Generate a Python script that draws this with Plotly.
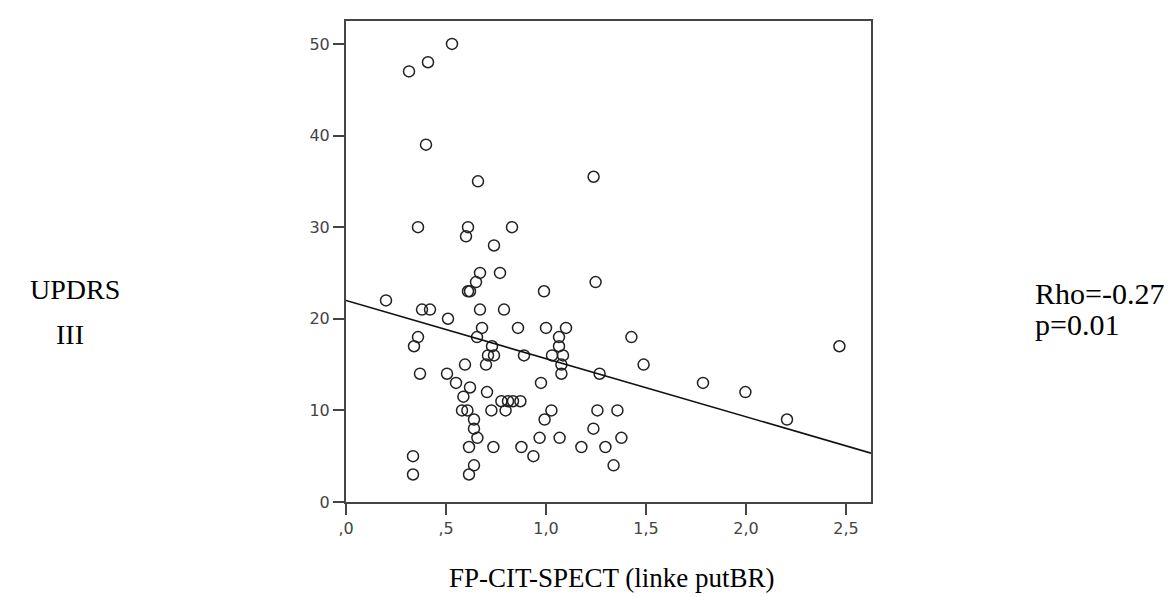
import plotly.graph_objects as go

# ---- data ----
putbr = [0.315, 0.41, 0.53, 0.40, 0.66, 0.36, 0.61, 0.60, 0.83, 0.74,
         0.67, 0.77, 0.65, 0.62, 0.61, 0.99, 0.20, 0.38, 0.42, 0.67,
         0.79, 0.51, 0.68, 0.86, 1.00, 1.10, 0.36, 0.34, 0.655, 0.73,
         0.71, 0.74, 0.70, 0.89, 1.065, 1.065, 1.03, 1.085, 1.077, 1.077,
         0.37, 0.505, 0.595, 0.55, 0.62, 0.705, 0.975, 0.587, 0.58, 0.607,
         0.64, 0.64, 0.657, 0.615, 0.64, 0.615, 0.335, 0.335, 0.727, 0.777,
         0.81, 0.835, 0.872, 0.798, 0.737, 0.877, 0.937, 0.968, 1.027, 0.993,
         1.068, 1.177, 1.238, 1.248, 1.427, 1.488, 1.268, 2.467, 1.785, 1.997,
         2.205, 1.257, 1.357, 1.237, 1.377, 1.297, 1.338]
updrs = [47, 48, 50, 39, 35, 30, 30, 29, 30, 28,
         25, 25, 24, 23, 23, 23, 22, 21, 21, 21,
         21, 20, 19, 19, 19, 19, 18, 17, 18, 17,
         16, 16, 15, 16, 18, 17, 16, 16, 15, 14,
         14, 14, 15, 13, 12.5, 12, 13, 11.5, 10, 10,
         9, 8, 7, 6, 4, 3, 5, 3, 10, 11,
         11, 11, 11, 10, 6, 6, 5, 7, 10, 9,
         7, 6, 35.5, 24, 18, 15, 14, 17, 13, 12,
         9, 10, 10, 8, 7, 6, 4]

fit_intercept = 22.0
fit_slope = -6.35

x_range = [0, 2.625]
y_range = [0, 52.5]
x_tickvals = [0, 0.5, 1.0, 1.5, 2.0, 2.5]
x_ticktext = [",0", ",5", "1,0", "1,5", "2,0", "2,5"]
y_tickvals = [0, 10, 20, 30, 40, 50]

x_title = "FP-CIT-SPECT (linke putBR)"
y_title_lines = ["UPDRS", "III"]
stats_lines = ["Rho=-0.27", "p=0.01"]

# ---- layout geometry (pixels) ----
W, H = 1174, 597
L, R, T, B = 338, 863, 11, 494


def px(xp):
    return (xp - L) / (R - L)


def py(yp):
    return (B - yp) / (B - T)


fig = go.Figure()

fig.add_trace(go.Scatter(
    x=putbr, y=updrs, mode="markers",
    marker=dict(symbol="circle-open", size=11, color="#222222",
                line=dict(width=1.5, color="#222222")),
    showlegend=False, hoverinfo="x+y"))

fit_x = [x_range[0], x_range[1]]
fit_y = [fit_intercept + fit_slope * v for v in fit_x]
fig.add_trace(go.Scatter(
    x=fit_x, y=fit_y, mode="lines",
    line=dict(color="#111111", width=1.6),
    showlegend=False, hoverinfo="skip"))

serif = "Liberation Serif, Times New Roman, serif"
tickfont = dict(family="DejaVu Sans", size=16, color="#444444")

fig.update_layout(
    width=W, height=H,
    margin=dict(l=L, r=W - R, t=T, b=H - B, pad=0),
    plot_bgcolor="white", paper_bgcolor="white",
    xaxis=dict(range=x_range, tickvals=x_tickvals, ticktext=x_ticktext,
               showgrid=False, zeroline=False, showline=True, mirror=True,
               linecolor="#444444", linewidth=2, ticks="outside",
               ticklen=11, tickwidth=2, tickcolor="#444444",
               tickfont=tickfont, fixedrange=True),
    yaxis=dict(range=y_range, tickvals=y_tickvals,
               showgrid=False, zeroline=False, showline=True, mirror=True,
               linecolor="#444444", linewidth=2, ticks="outside",
               ticklen=11, tickwidth=2, tickcolor="#444444",
               tickfont=tickfont, fixedrange=True),
)

annos = [
    (y_title_lines[0], 67, 281, "center", 28),
    (y_title_lines[1], 62, 326, "center", 28),
    (stats_lines[0], 1026, 285, "left", 30),
    (stats_lines[1], 1026, 316, "left", 30),
    (x_title, 604, 570, "center", 27),
]
for text, xp, yp, anchor, fs in annos:
    fig.add_annotation(text=text, x=px(xp), y=py(yp), xref="paper", yref="paper",
                       xanchor=anchor, yanchor="middle", showarrow=False,
                       borderpad=0,
                       font=dict(family=serif, size=fs, color="#000000"))

fig.write_html("out.html")
